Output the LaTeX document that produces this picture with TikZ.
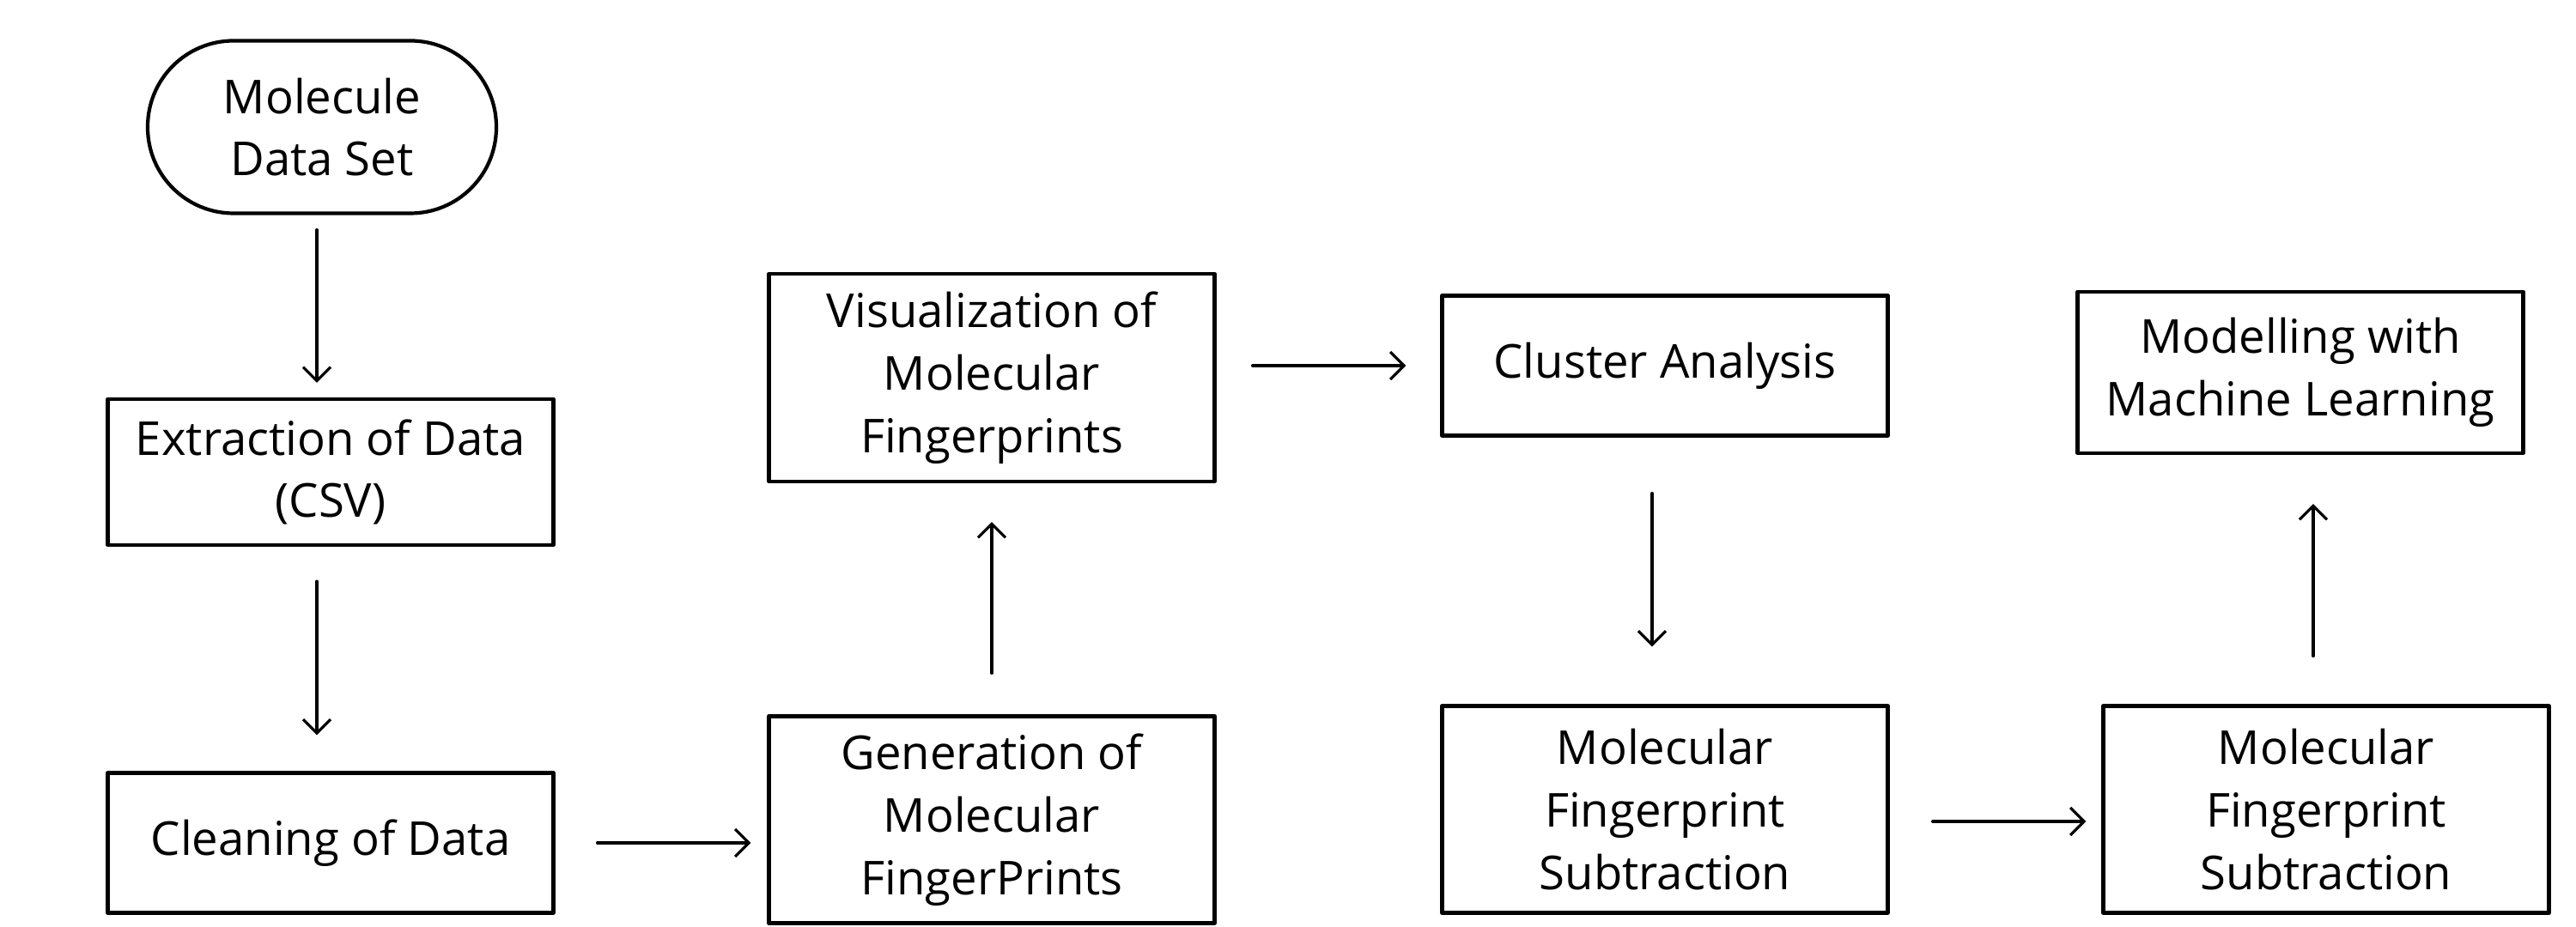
\documentclass[tikz,border=0pt]{standalone}
\usepackage{fontspec}
\setmainfont{Open Sans}
\usetikzlibrary{arrows.meta}
\begin{document}
\begin{tikzpicture}[font=\fontsize{15.5}{20.7}\selectfont, line join=round, line cap=round, >={Straight Barb[length=1.6mm,width=3.2mm]},
			stepbox/.style={draw, line width=1.2pt, align=center, minimum width=5.19cm, inner sep=0pt},
			pill/.style={draw, line width=1.2pt, align=center, rounded corners=1cm, minimum width=4.06cm, minimum height=2.01cm},
			flow/.style={->, line width=0.9pt}]
			\useasboundingbox (0,0) rectangle (30,10.8);
			\node[pill] (data) at (3.75,9.32) {Molecule\\Data Set};
			\node[stepbox, minimum height=1.70cm] (extract) at (3.85,5.30) {Extraction of Data\\(CSV)};
			\node[stepbox, minimum height=1.63cm] (clean) at (3.85,0.98) {Cleaning of Data};
			\node[stepbox, minimum height=2.41cm] (gen) at (11.55,1.25) {Generation of\\Molecular\\FingerPrints};
			\node[stepbox, minimum height=2.42cm] (vis) at (11.55,6.40) {Visualization of\\Molecular\\Fingerprints};
			\node[stepbox, minimum height=1.63cm] (cluster) at (19.39,6.54) {Cluster Analysis};
			\node[stepbox, minimum height=2.41cm] (sub1) at (19.39,1.37) {Molecular\\Fingerprint\\Subtraction};
			\node[stepbox, minimum height=2.41cm] (sub2) at (27.09,1.37) {Molecular\\Fingerprint\\Subtraction};
			\node[stepbox, minimum height=1.88cm] (model) at (26.79,6.46) {Modelling with\\Machine Learning};
			\coordinate (d) at ([xshift=-0.06cm]data.south);
			\coordinate (c) at ([xshift=-0.15cm]cluster.south);
			\coordinate (s) at ([yshift=-0.14cm]sub1.east);
			\coordinate (m) at ([xshift=-0.15cm]sub2.north);
			\draw[flow, shorten <=0.17cm, shorten >=0.17cm] (d) -- (d |- extract.north);
			\draw[flow, shorten <=0.40cm, shorten >=0.42cm] (d |- extract.south) -- (d |- clean.north);
			\draw[flow, shorten <=0.49cm, shorten >=0.19cm] (clean.east) -- (clean.east -| gen.west);
			\draw[flow, shorten <=0.48cm, shorten >=0.45cm] (gen.north) -- (vis.south);
			\draw[flow, shorten <=0.42cm, shorten >=0.40cm] (cluster.west -| vis.east) -- (cluster.west);
			\draw[flow, shorten <=0.65cm, shorten >=0.67cm] (c) -- (c |- sub1.north);
			\draw[flow, shorten <=0.50cm, shorten >=0.18cm] (s) -- (s -| sub2.west);
			\draw[flow, shorten <=0.56cm, shorten >=0.57cm] (m) -- (m |- model.south);
		\end{tikzpicture}
\end{document}
